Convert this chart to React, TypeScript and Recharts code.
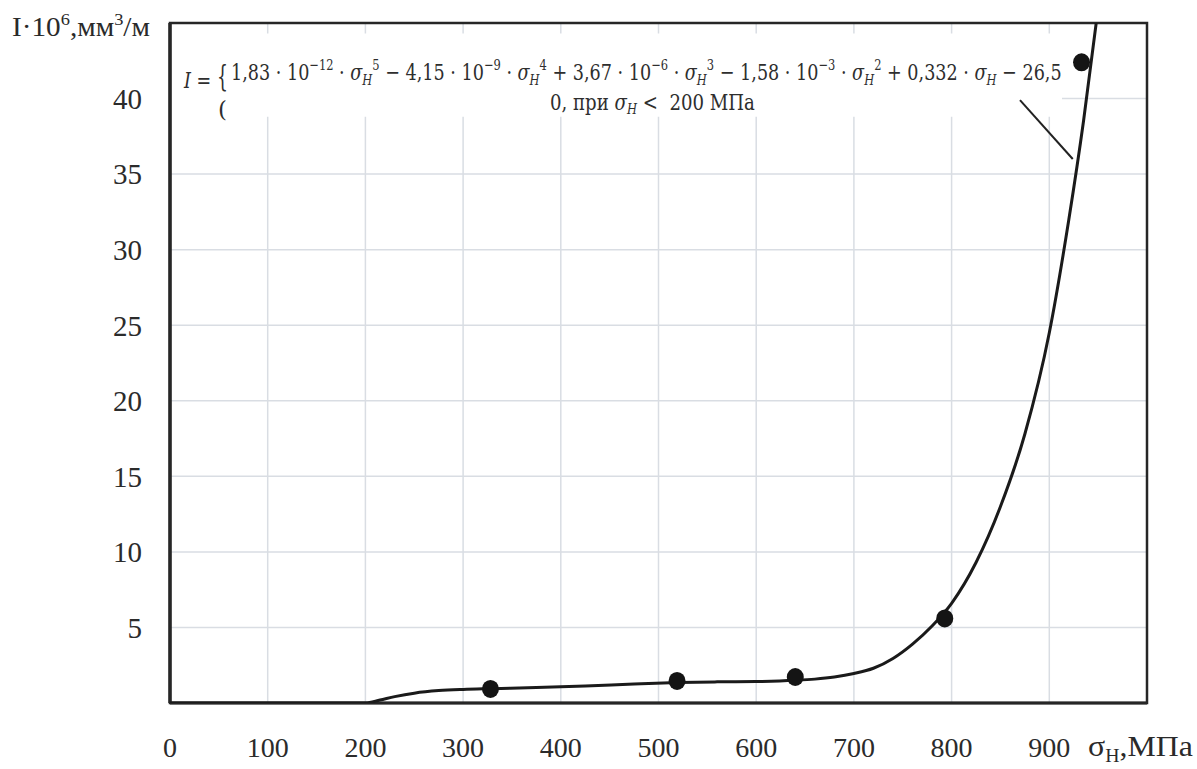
import React, { useLayoutEffect, useRef, useState } from 'react';
import {
  ComposedChart,
  Line,
  Scatter,
  XAxis,
  YAxis,
  CartesianGrid,
  ReferenceArea,
  ReferenceLine,
} from 'recharts';

// fitted curve I(σH)
const curveX = [0, 100, 200, 215, 230, 250, 275, 300, 330, 375, 425, 475, 520, 560, 600, 640, 660, 680, 700, 720, 740, 760, 780, 800, 825, 850, 875, 900, 920, 935, 948];
const curveY = [0, 0, 0, 0.2, 0.42, 0.65, 0.82, 0.9, 0.95, 1.02, 1.12, 1.25, 1.35, 1.4, 1.42, 1.5, 1.58, 1.72, 1.95, 2.3, 2.95, 3.9, 5.1, 6.6, 9.3, 13.0, 17.8, 24.5, 32, 38.5, 45];

// experimental points
const pointX = [328, 519, 640, 793, 933];
const pointY = [0.93, 1.46, 1.72, 5.6, 42.4];

const xTicks = [0, 100, 200, 300, 400, 500, 600, 700, 800, 900, 1000];
const yTicks = [0, 5, 10, 15, 20, 25, 30, 35, 40, 45];

// leader line from the formula to the curve
const leaderX = [870, 924];
const leaderY = [39.9, 36.0];

// area behind the formula
const boxX = [0, 913];
const boxY = [38.8, 44.3];

const curveData = curveX.map((x, i) => ({ x, y: curveY[i] }));
const pointData = pointX.map((x, i) => ({ x, y: pointY[i] }));

type Kind = 'n' | 'i' | 'sup' | 'sub';
type Seg = [string, Kind];

const line1: Seg[] = [
  ['1,83 · 10', 'n'], ['−12', 'sup'], [' · ', 'n'], ['σ', 'i'], ['H', 'sub'], ['5', 'sup'],
  [' − 4,15 · 10', 'n'], ['−9', 'sup'], [' · ', 'n'], ['σ', 'i'], ['H', 'sub'], ['4', 'sup'],
  [' + 3,67 · 10', 'n'], ['−6', 'sup'], [' · ', 'n'], ['σ', 'i'], ['H', 'sub'], ['3', 'sup'],
  [' − 1,58 · 10', 'n'], ['−3', 'sup'], [' · ', 'n'], ['σ', 'i'], ['H', 'sub'], ['2', 'sup'],
  [' + 0,332 · ', 'n'], ['σ', 'i'], ['H', 'sub'], [' − 26,5', 'n'],
];
const line2: Seg[] = [
  ['0, при ', 'n'], ['σ', 'i'], ['H', 'sub'], [' <  200 МПа', 'n'],
];

function renderSegs(segs: Seg[], size: number, small: number) {
  let cur = 0;
  return segs.map(([t, k], i) => {
    const target = k === 'sup' ? -Math.round(size * 0.42) : k === 'sub' ? Math.round(size * 0.2) : 0;
    const dy = target - cur;
    cur = target;
    return (
      <tspan
        key={i}
        dy={dy}
        fontSize={k === 'sup' || k === 'sub' ? small : size}
        fontStyle={k === 'i' || k === 'sub' ? 'italic' : 'normal'}
      >
        {t}
      </tspan>
    );
  });
}

// text squeezed horizontally to a measured width
function FitText(props: { x: number; y: number; width: number; fontFamily: string; fontSize?: number; fill?: string; fontStyle?: string; children: any }) {
  const ref = useRef<SVGTextElement>(null);
  const [s, setS] = useState(1);
  useLayoutEffect(() => {
    if (ref.current) {
      const w = ref.current.getBBox().width;
      if (w > 0) setS(props.width / w);
    }
  }, [props.width]);
  return (
    <text
      ref={ref}
      x={0}
      y={0}
      transform={`translate(${props.x},${props.y}) scale(${s},1)`}
      fontFamily={props.fontFamily}
      fontSize={props.fontSize}
      fill={props.fill}
      fontStyle={props.fontStyle}
      style={{ whiteSpace: 'pre' }}
    >
      {props.children}
    </text>
  );
}

const Dot = (p: any) => <ellipse cx={p.cx} cy={p.cy} rx={8.5} ry={9} fill="#141414" />;

const SERIF = 'Liberation Serif';
const MATH = 'DejaVu Serif';
const INK = '#2e2e2e';

const XTick = (p: any) => {
  const v = p.payload?.value;
  if (v === 1000) return <g />;
  return (
    <text x={p.x} y={p.y} dy="0.71em" textAnchor="middle" fill="#2b2b2b" fontFamily={SERIF} fontSize={28}>
      {String(v)}
    </text>
  );
};

const YTick = (p: any) => {
  const v = p.payload?.value;
  if (v === 0 || v === 45) return <g />;
  return (
    <text x={p.x} y={p.y} dy="0.355em" textAnchor="end" fill="#2b2b2b" fontFamily={SERIF} fontSize={29}>
      {String(v)}
    </text>
  );
};

export default function App() {
  return (
    <div style={{ position: 'absolute', left: 0, top: 0, width: 1197, height: 769, background: '#fff' }}>
      <ComposedChart
        width={1197}
        height={769}
        margin={{ top: 23, right: 50, bottom: 0, left: 0 }}
      >
        <CartesianGrid stroke="#d9dde3" strokeWidth={1.5} />
        <XAxis
          type="number"
          dataKey="x"
          domain={[0, 1000]}
          ticks={xTicks}
          interval={0}
          axisLine={false}
          tickLine={false}
          tickSize={0}
          tickMargin={34}
          height={66}
          tick={XTick}
          allowDataOverflow
        />
        <YAxis
          type="number"
          dataKey="y"
          domain={[0, 45]}
          ticks={yTicks}
          interval={0}
          axisLine={false}
          tickLine={false}
          tickSize={0}
          tickMargin={28}
          width={170}
          tick={YTick}
          allowDataOverflow
        />
        <ReferenceArea
          x1={boxX[0]}
          x2={boxX[1]}
          y1={boxY[0]}
          y2={boxY[1]}
          fill="#ffffff"
          fillOpacity={1}
          stroke="none"
        />
        <ReferenceArea
          x1={0}
          x2={1000}
          y1={0}
          y2={45}
          fill="none"
          fillOpacity={0}
          stroke="#262626"
          strokeWidth={2.5}
        />
        <ReferenceLine x={0} stroke="#262626" strokeWidth={3.5} />
        <ReferenceLine y={0} stroke="#262626" strokeWidth={3} />
        <ReferenceLine
          segment={[
            { x: leaderX[0], y: leaderY[0] },
            { x: leaderX[1], y: leaderY[1] },
          ]}
          stroke="#222"
          strokeWidth={2}
        />
        <Line
          data={curveData}
          dataKey="y"
          type="monotone"
          stroke="#1a1a1a"
          strokeWidth={3}
          dot={false}
          activeDot={false}
          isAnimationActive={false}
        />
        <Scatter
          data={pointData}
          dataKey="y"
          shape={Dot}
          isAnimationActive={false}
        />
      </ComposedChart>
      <svg
        width={1197}
        height={769}
        style={{ position: 'absolute', left: 0, top: 0, pointerEvents: 'none' }}
      >
        {/* y axis title */}
        <FitText x={12} y={36} width={138} fontFamily={SERIF} fontSize={27} fill="#2a2a2a">
          <tspan>I·10</tspan>
          <tspan dy={-11} fontSize={17}>6</tspan>
          <tspan dy={11}>,мм</tspan>
          <tspan dy={-11} fontSize={17}>3</tspan>
          <tspan dy={11}>/м</tspan>
        </FitText>
        {/* x axis title */}
        <FitText x={1088} y={756} width={105} fontFamily={SERIF} fontSize={29} fill="#2a2a2a">
          <tspan>σ</tspan>
          <tspan dy={6} fontSize={18}>Н</tspan>
          <tspan dy={-6}>,МПа</tspan>
        </FitText>
        {/* formula */}
        <FitText x={184} y={88} width={28} fontFamily={MATH} fontSize={22} fill={INK}>
          <tspan fontStyle="italic">I</tspan>
          <tspan> =</tspan>
        </FitText>
        <FitText x={217} y={86} width={11} fontFamily={MATH} fontSize={30} fill={INK}>{'{'}</FitText>
        <FitText x={218} y={117} width={9} fontFamily={MATH} fontSize={23} fill={INK}>(</FitText>
        <FitText x={231} y={80} width={831} fontFamily={MATH} fill={INK}>
          {renderSegs(line1, 23, 15)}
        </FitText>
        <FitText x={550} y={110} width={205} fontFamily={MATH} fill={INK}>
          {renderSegs(line2, 22, 14)}
        </FitText>
      </svg>
    </div>
  );
}
